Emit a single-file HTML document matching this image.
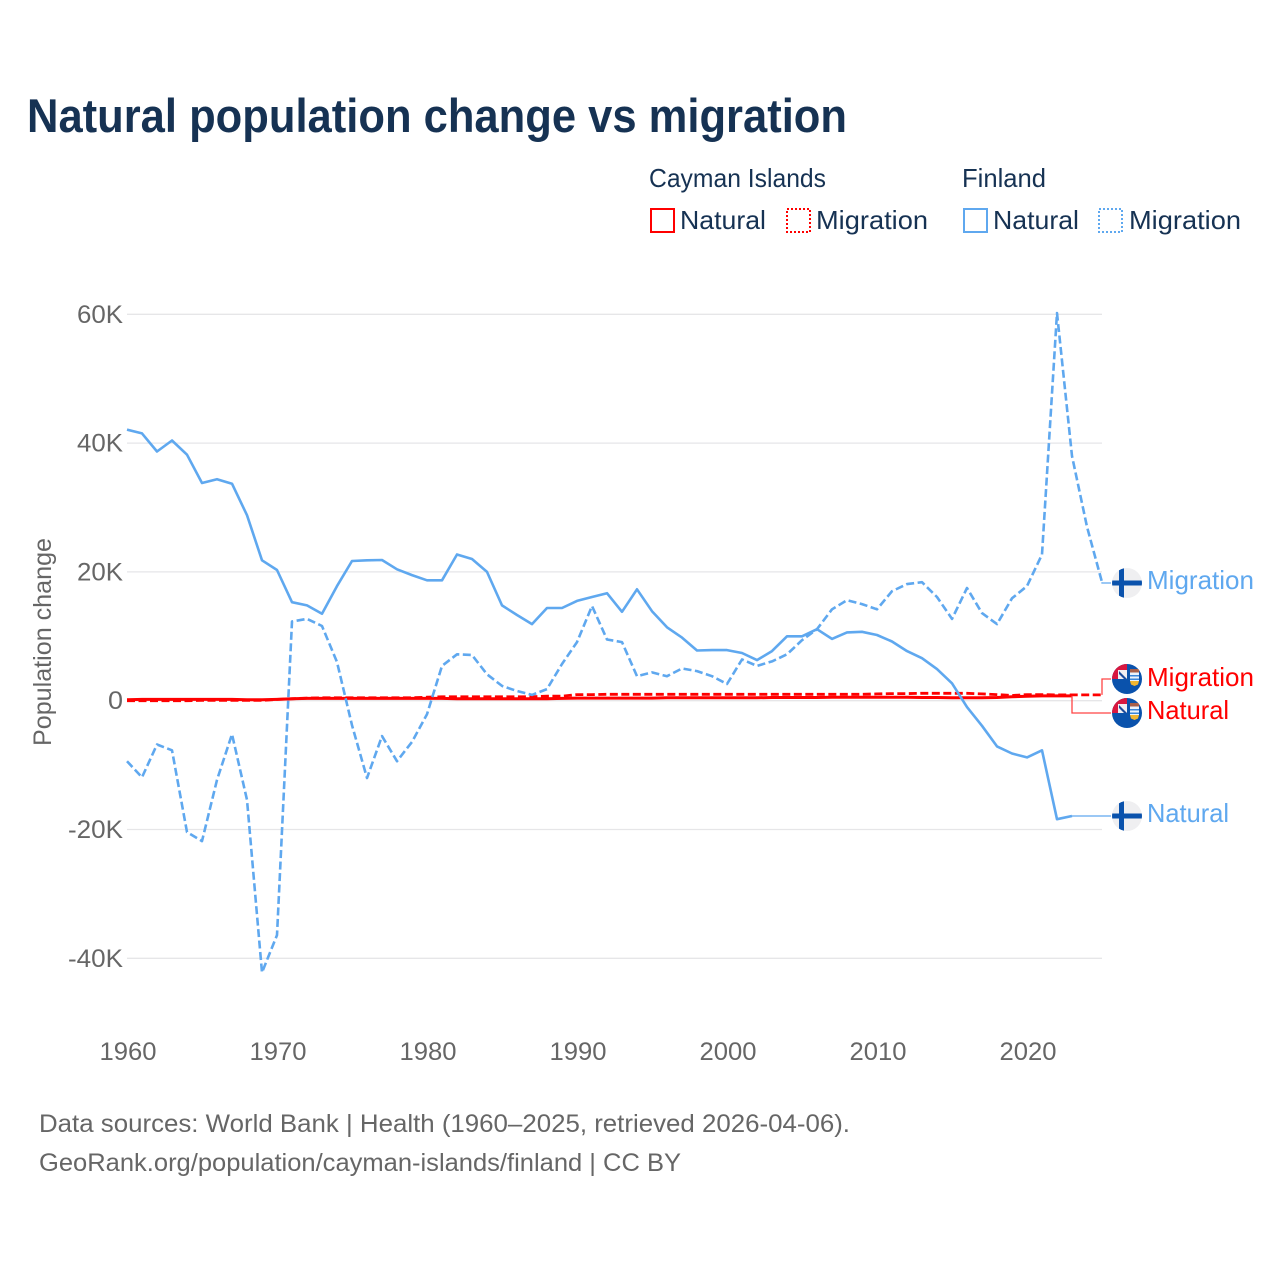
<!DOCTYPE html>
<html lang="en">
<head>
<meta charset="utf-8">
<title>Natural population change vs migration</title>
<style>
html,body{margin:0;padding:0;background:#fff;width:1280px;height:1280px;overflow:hidden}
svg{display:block}
text{font-family:"Liberation Sans",sans-serif}
</style>
</head>
<body>
<svg id="chart" width="1280" height="1280" viewBox="0 0 1280 1280" xmlns="http://www.w3.org/2000/svg">
<defs>
<clipPath id="flag-clip-1"><circle cx="1127" cy="583" r="15"/></clipPath>
<clipPath id="flag-clip-2"><circle cx="1127" cy="679" r="15"/></clipPath>
<clipPath id="flag-clip-3"><circle cx="1127" cy="713" r="15"/></clipPath>
<clipPath id="flag-clip-4"><circle cx="1127" cy="816" r="15"/></clipPath>
</defs>
<text x="27" y="132" font-size="47" font-weight="700" fill="#163253" textLength="820" lengthAdjust="spacingAndGlyphs">Natural population change vs migration</text>

<g font-size="26" fill="#163253">
<text x="649" y="187" textLength="177" lengthAdjust="spacingAndGlyphs">Cayman Islands</text>
<text x="962" y="187" textLength="84" lengthAdjust="spacingAndGlyphs">Finland</text>
<rect x="651" y="209" width="23" height="23" fill="none" stroke="#ff0000" stroke-width="2"/>
<text x="680" y="229" textLength="86" lengthAdjust="spacingAndGlyphs">Natural</text>
<rect x="787" y="209" width="23" height="23" fill="none" stroke="#ff0000" stroke-width="2" stroke-dasharray="2 2"/>
<text x="816" y="229" textLength="112" lengthAdjust="spacingAndGlyphs">Migration</text>
<rect x="964" y="209" width="23" height="23" fill="none" stroke="#5fa8ef" stroke-width="2"/>
<text x="993" y="229" textLength="86" lengthAdjust="spacingAndGlyphs">Natural</text>
<rect x="1099" y="209" width="23" height="23" fill="none" stroke="#5fa8ef" stroke-width="2" stroke-dasharray="2 2"/>
<text x="1129" y="229" textLength="112" lengthAdjust="spacingAndGlyphs">Migration</text>
</g>

<g id="grid"></g>
<g id="yticks"></g>
<g id="xticks"></g>
<text transform="translate(51,642) rotate(-90)" text-anchor="middle" font-size="25" fill="#666666" textLength="208" lengthAdjust="spacingAndGlyphs">Population change</text>
<g id="series"></g>

<g clip-path="url(#flag-clip-1)">
<rect x="1112" y="568" width="30" height="30" fill="#efeff1"/>
<rect x="1119" y="568" width="5" height="30" fill="#0a52ac"/>
<rect x="1112" y="580.5" width="30" height="5" fill="#0a52ac"/>
</g>
<g clip-path="url(#flag-clip-4)">
<rect x="1112" y="801" width="30" height="30" fill="#efeff1"/>
<rect x="1119" y="801" width="5" height="30" fill="#0a52ac"/>
<rect x="1112" y="813.5" width="30" height="5" fill="#0a52ac"/>
</g>
<g clip-path="url(#flag-clip-2)">
<rect x="1112" y="664" width="30" height="30" fill="#0a52ac"/>
<rect x="1112" y="664" width="15" height="15" fill="#d8173f"/>
<rect x="1118" y="670" width="9" height="9" fill="#f0eef2"/>
<path d="M1119 671 L1127 679 L1124 679 L1119 674Z" fill="#1a4a9c"/>
<rect x="1130" y="669" width="9" height="3.500" fill="#a8604a"/>
<rect x="1130" y="672.500" width="9" height="8.500" fill="#eaf3fc"/>
<rect x="1130" y="675" width="9" height="1.500" fill="#3a86d8"/>
<rect x="1130" y="678.500" width="9" height="1.500" fill="#3a86d8"/>
<path d="M1130 681 h9 l-1 3.500 l-3.500 1.500 l-3.500 -1.500z" fill="#f2b631"/>
</g>
<g clip-path="url(#flag-clip-3)">
<rect x="1112" y="698" width="30" height="30" fill="#0a52ac"/>
<rect x="1112" y="698" width="15" height="15" fill="#d8173f"/>
<rect x="1118" y="704" width="9" height="9" fill="#f0eef2"/>
<path d="M1119 705 L1127 713 L1124 713 L1119 708Z" fill="#1a4a9c"/>
<rect x="1130" y="703" width="9" height="3.500" fill="#a8604a"/>
<rect x="1130" y="706.500" width="9" height="8.500" fill="#eaf3fc"/>
<rect x="1130" y="709" width="9" height="1.500" fill="#3a86d8"/>
<rect x="1130" y="712.500" width="9" height="1.500" fill="#3a86d8"/>
<path d="M1130 715 h9 l-1 3.500 l-3.500 1.500 l-3.500 -1.500z" fill="#f2b631"/>
</g>

<g font-size="26">
<text x="1147" y="589" fill="#5fa8ef" textLength="107" lengthAdjust="spacingAndGlyphs">Migration</text>
<text x="1147" y="686" fill="#ff0000" textLength="107" lengthAdjust="spacingAndGlyphs">Migration</text>
<text x="1147" y="719" fill="#ff0000" textLength="82" lengthAdjust="spacingAndGlyphs">Natural</text>
<text x="1147" y="822" fill="#5fa8ef" textLength="82" lengthAdjust="spacingAndGlyphs">Natural</text>
</g>

<g font-size="25" fill="#666666">
<text x="39" y="1132" textLength="811" lengthAdjust="spacingAndGlyphs">Data sources: World Bank | Health (1960–2025, retrieved 2026-04-06).</text>
<text x="39" y="1171" textLength="642" lengthAdjust="spacingAndGlyphs">GeoRank.org/population/cayman-islands/finland | CC BY</text>
</g>
</svg>
<script>
const startYear = 1960;
const yTickValues = [60, 40, 20, 0, -20, -40];
const yTickLabels = ["60K", "40K", "20K", "0", "-20K", "-40K"];
const xTickValues = [1960, 1970, 1980, 1990, 2000, 2010, 2020];
const finlandNatural = [42.1,41.5,38.7,40.4,38.2,33.8,34.4,33.7,28.8,21.8,20.3,15.3,14.8,13.5,17.8,21.7,21.8,21.85,20.4,19.5,18.7,18.7,22.7,22.0,20.0,14.8,13.3,11.9,14.4,14.4,15.5,16.1,16.7,13.8,17.3,13.9,11.4,9.8,7.8,7.85,7.85,7.4,6.3,7.7,10.0,10.0,11.1,9.6,10.6,10.7,10.2,9.2,7.7,6.6,4.9,2.7,-1.0,-3.9,-7.1,-8.2,-8.8,-7.7,-18.4,-17.9];
const finlandMigration = [-9.4,-11.9,-6.8,-7.7,-20.4,-21.8,-12.3,-5.2,-15.4,-42.2,-36.4,12.3,12.7,11.6,6.0,-3.8,-12.0,-5.5,-9.4,-6.4,-2.1,5.4,7.2,7.1,4.1,2.3,1.5,0.9,1.8,5.7,9.1,14.7,9.5,9.1,3.8,4.4,3.8,5.0,4.6,3.8,2.6,6.4,5.4,6.1,7.2,9.4,11.1,14.2,15.6,15.0,14.2,17.0,18.1,18.4,16.1,12.7,17.5,13.6,11.9,15.9,17.8,22.7,60.2,38.0,27.0,18.4];
const caymanNatural = [0.15,0.2,0.2,0.2,0.2,0.2,0.2,0.2,0.15,0.15,0.2,0.3,0.35,0.35,0.35,0.35,0.35,0.35,0.35,0.35,0.35,0.35,0.3,0.3,0.3,0.3,0.3,0.3,0.3,0.35,0.4,0.4,0.4,0.4,0.4,0.4,0.45,0.45,0.45,0.45,0.45,0.45,0.45,0.5,0.5,0.5,0.5,0.55,0.55,0.55,0.55,0.55,0.55,0.5,0.5,0.45,0.45,0.45,0.5,0.6,0.7,0.75,0.75,0.75];
const caymanMigration = [0.0,0.0,0.0,0.0,0.0,0.05,0.05,0.05,0.05,0.05,0.2,0.3,0.4,0.45,0.45,0.45,0.45,0.45,0.45,0.45,0.55,0.6,0.6,0.6,0.6,0.6,0.6,0.6,0.7,0.7,0.95,0.95,1.0,1.0,1.0,1.0,1.0,1.0,1.0,1.0,1.0,1.0,1.0,1.0,1.0,1.0,1.0,1.0,1.0,1.0,1.05,1.1,1.1,1.15,1.15,1.15,1.15,1.05,0.95,0.8,0.95,0.95,0.9,0.9,0.9,0.9];
const endLabelY = { caymanNatural: 713, caymanMigration: 679, finlandNatural: 816, finlandMigration: 583 };

const NS = "http://www.w3.org/2000/svg";
function xScale(year) { return 127 + (year - 1960) * 15; }
function yScale(v) { return 700.7 - v * 6.44; }
function linePoints(values) {
  return values.map(function (v, i) { return xScale(startYear + i).toFixed(1) + "," + yScale(v).toFixed(1); });
}
function addLine(parent, values, color, dashed, width, name) {
  const p = document.createElementNS(NS, "polyline");
  p.setAttribute("points", linePoints(values).join(" "));
  p.setAttribute("fill", "none");
  p.setAttribute("stroke", color);
  p.setAttribute("stroke-width", width);
  p.setAttribute("stroke-linejoin", "round");
  if (dashed) p.setAttribute("stroke-dasharray", "8 3.5");
  
  
  parent.appendChild(p);
}
function addConnector(parent, values, targetY, color, name) {
  const lastX = xScale(startYear + values.length - 1);
  const lastY = yScale(values[values.length - 1]);
  const p = document.createElementNS(NS, "polyline");
  p.setAttribute("points", lastX + "," + lastY.toFixed(1) + " " + lastX + "," + targetY + " 1111," + targetY);
  p.setAttribute("fill", "none");
  p.setAttribute("stroke", color);
  p.setAttribute("stroke-width", "1.3");
  
  
  parent.appendChild(p);
}

const gridG = document.getElementById("grid");
const yG = document.getElementById("yticks");
const xG = document.getElementById("xticks");
const seriesG = document.getElementById("series");

yTickValues.forEach(function (v, i) {
  const l = document.createElementNS(NS, "line");
  l.setAttribute("x1", xScale(1960));
  l.setAttribute("x2", xScale(2025));
  l.setAttribute("y1", yScale(v));
  l.setAttribute("y2", yScale(v));
  l.setAttribute("stroke", "#e6e6e8");
  l.setAttribute("stroke-width", "1.3");
  
  
  gridG.appendChild(l);
  const t = document.createElementNS(NS, "text");
  t.setAttribute("x", "123");
  t.setAttribute("y", yScale(v) + 8.5);
  t.setAttribute("text-anchor", "end");
  t.setAttribute("font-size", "25");
  t.setAttribute("fill", "#666666");
  const w = yTickLabels[i].length === 1 ? 15 : (yTickLabels[i].length === 3 ? 46 : 55);
  t.setAttribute("textLength", w);
  t.setAttribute("lengthAdjust", "spacingAndGlyphs");
  t.textContent = yTickLabels[i];
  
  
  yG.appendChild(t);
});

xTickValues.forEach(function (year) {
  const t = document.createElementNS(NS, "text");
  t.setAttribute("x", xScale(year) + 1);
  t.setAttribute("y", "1060");
  t.setAttribute("text-anchor", "middle");
  t.setAttribute("font-size", "25");
  t.setAttribute("fill", "#666666");
  t.setAttribute("textLength", "57");
  t.setAttribute("lengthAdjust", "spacingAndGlyphs");
  t.textContent = String(year);
  
  
  xG.appendChild(t);
});

addLine(seriesG, caymanNatural, "#ff0000", false, "3", "line-cayman-natural");
addLine(seriesG, caymanMigration, "#ff0000", true, "2.8", "line-cayman-migration");
addConnector(seriesG, caymanNatural, endLabelY.caymanNatural, "#ff4444", "connector-cayman-natural");
addConnector(seriesG, caymanMigration, endLabelY.caymanMigration, "#ff4444", "connector-cayman-migration");
addLine(seriesG, finlandNatural, "#5fa8ef", false, "2.6", "line-finland-natural");
addLine(seriesG, finlandMigration, "#5fa8ef", true, "2.6", "line-finland-migration");
addConnector(seriesG, finlandNatural, endLabelY.finlandNatural, "#5fa8ef", "connector-finland-natural");
addConnector(seriesG, finlandMigration, endLabelY.finlandMigration, "#5fa8ef", "connector-finland-migration");
</script>
</body>
</html>
